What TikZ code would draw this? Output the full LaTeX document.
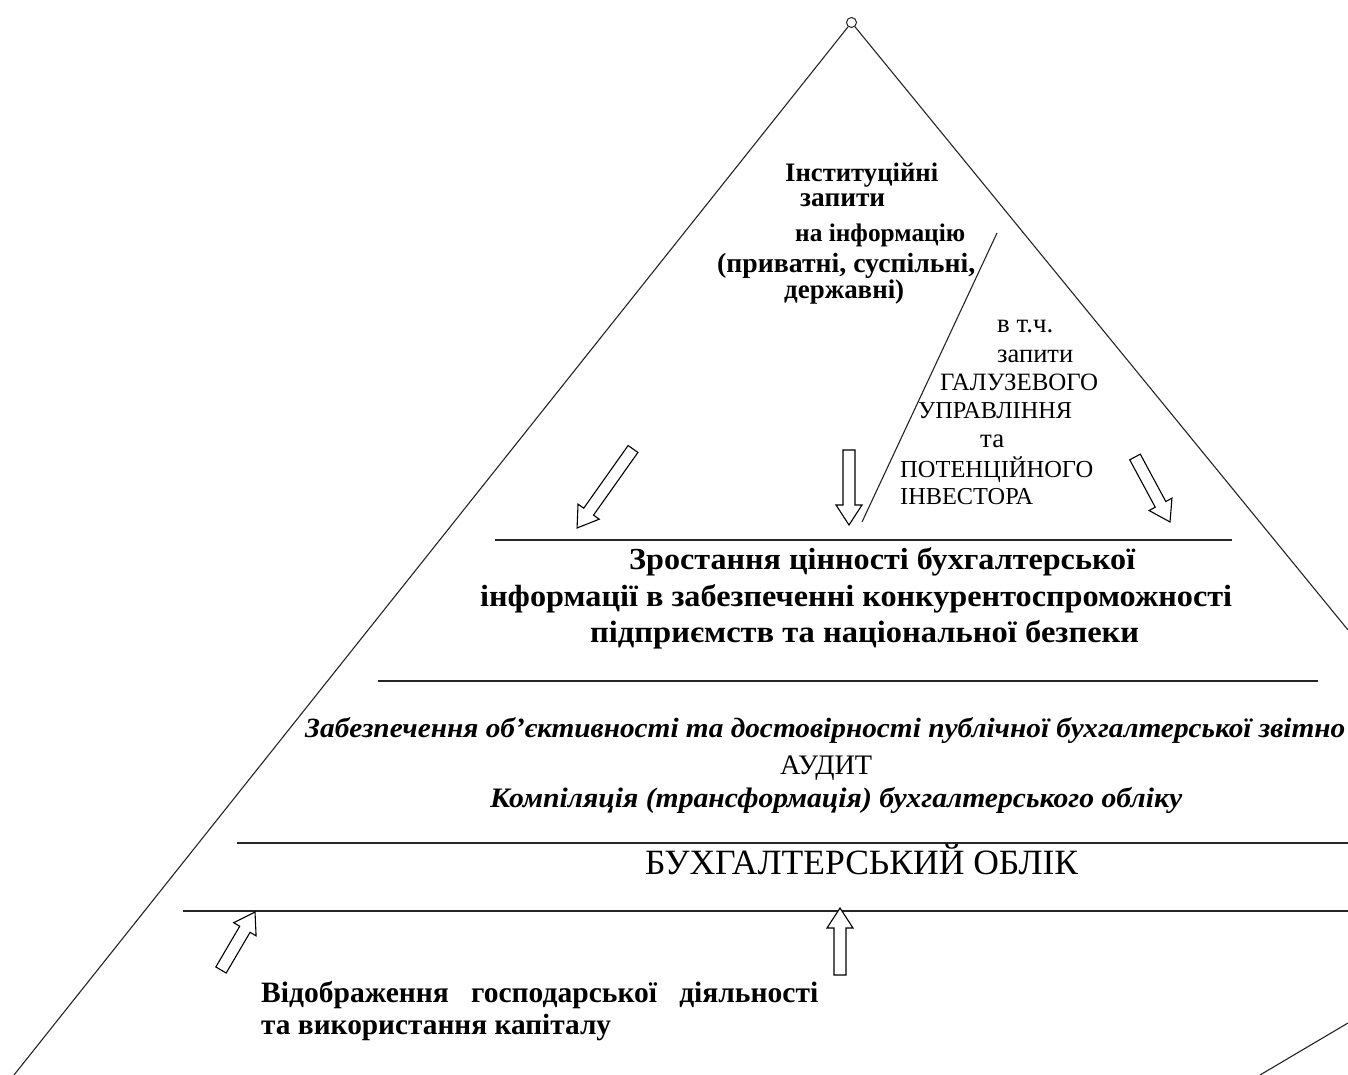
\documentclass[tikz,border=0pt]{standalone}
\usepackage{fontspec}
\setmainfont{Liberation Serif}
\usepackage{graphicx}
\newcommand\fitw[3]{\scalebox{1}[#2]{\resizebox{#1}{!}{#3}}}
\tikzset{
  txt/.style={inner sep=0pt, anchor=base west, font=\fontsize{24}{24}\selectfont},
  side/.style={draw=black!85, line width=1.1pt},
  level/.style={draw=black!85, line width=1.5pt},
  arrowline/.style={draw=black, line width=1.1pt, fill=white, line join=miter},
  pics/barrow/.style={code={
    \draw[arrowline] (0,-6) -- ({#1-20},-6) -- ({#1-20},-13) -- (#1,0)
      -- ({#1-20},13) -- ({#1-20},6) -- (0,6) -- cycle;}}
}
\begin{document}
\begin{tikzpicture}[x=1pt,y=1pt]
\useasboundingbox (0,0) rectangle (1348,1075);
\clip (0,0) rectangle (1348,1075);
\fill[white] (0,0) rectangle (1348,1075);

% pyramid
\node[circle, draw=black!85, line width=1pt, minimum size=10pt, inner sep=0pt] (apex) at (851.5,1052.5) {};
\coordinate (bl) at (14,0);
\coordinate (rs) at (1348,445);
\coordinate (br1) at (1260,0);
\coordinate (br2) at (1348,52);
\draw[side] (apex) -- (bl);
\draw[side] (apex) -- (rs);
\draw[side] (br1) -- (br2);

% inner slanted line
\coordinate (s1) at (997,842);
\coordinate (s2) at (862,553);
\draw[side] (s1) -- (s2);

% level lines
\coordinate (h1a) at (495,535);  \coordinate (h1b) at (1232,535);
\coordinate (h2a) at (378,394);  \coordinate (h2b) at (1318,394);
\coordinate (h3a) at (237,232);  \coordinate (h3b) at (1348,232);
\coordinate (h4a) at (183,164);  \coordinate (h4b) at (1348,164);
\draw[level] (h1a) -- (h1b);
\draw[level] (h2a) -- (h2b);
\draw[level] (h3a) -- (h3b);
\draw[level] (h4a) -- (h4b);

% hollow block arrows
\pic[rotate=234.7] at (633,626) {barrow=96.8};
\pic[rotate=270] at (849,625) {barrow=75};
\pic[rotate=298.3] at (1135,618) {barrow=73.8};
\pic[rotate=59.6] at (221,105) {barrow=67.2};
\pic[rotate=90] at (840,100) {barrow=67};

% institutional requests block
\node[txt] (inst1) at (785,893) {\fitw{153pt}{1}{\bfseries Інституційні}};
\node[txt] (inst2) at (800,868) {\fitw{85pt}{1}{\bfseries запити}};
\node[txt] (inst3) at (795,833) {\fitw{170pt}{1}{\bfseries на інформацію}};
\node[txt] (inst4) at (717,802) {\fitw{258pt}{1}{\bfseries (приватні, суспільні,}};
\node[txt] (inst5) at (784,776) {\fitw{120pt}{1}{\bfseries державні)}};

% industry block
\node[txt] (r1) at (997,742) {\fitw{56pt}{1}{в т.ч.}};
\node[txt] (r2) at (997,712) {\fitw{76pt}{1}{запити}};
\node[txt] (r3) at (940,684) {\fitw{158pt}{1}{ГАЛУЗЕВОГО}};
\node[txt] (r4) at (918,656) {\fitw{154pt}{1}{УПРАВЛІННЯ}};
\node[txt] (r5) at (980,627) {\fitw{24pt}{1}{та}};
\node[txt] (r6) at (900,597) {\fitw{193pt}{1}{ПОТЕНЦІЙНОГО}};
\node[txt] (r7) at (900,570) {\fitw{133pt}{1}{ІНВЕСТОРА}};

% growth block
\node[txt] (m1) at (629,505) {\fitw{506pt}{0.95}{\bfseries Зростання цінності бухгалтерської}};
\node[txt] (m2) at (480,468) {\fitw{752pt}{0.95}{\bfseries інформації в забезпеченні конкурентоспроможності}};
\node[txt] (m3) at (590,432) {\fitw{549pt}{0.95}{\bfseries підприємств та національної безпеки}};

% audit block
\node[txt] (i1) at (305,337) {\fitw{1040pt}{0.95}{\bfseries\itshape Забезпечення об’єктивності та достовірності публічної бухгалтерської звітно}};
\node[txt] (i2) at (780,300) {\fitw{92pt}{1}{АУДИТ}};
\node[txt] (i3) at (490,267) {\fitw{692pt}{0.95}{\bfseries\itshape Компіляція (трансформація) бухгалтерського обліку}};

% accounting
\node[txt] (acc) at (645,200) {\fitw{433pt}{1}{БУХГАЛТЕРСЬКИЙ ОБЛІК}};

% bottom
\node[txt] (b1) at (261,72) {\fitw{557pt}{1}{\bfseries Відображення~~~господарської~~~діяльності}};
\node[txt] (b2) at (261,40) {\fitw{350pt}{1}{\bfseries та використання капіталу}};
\end{tikzpicture}
\end{document}
